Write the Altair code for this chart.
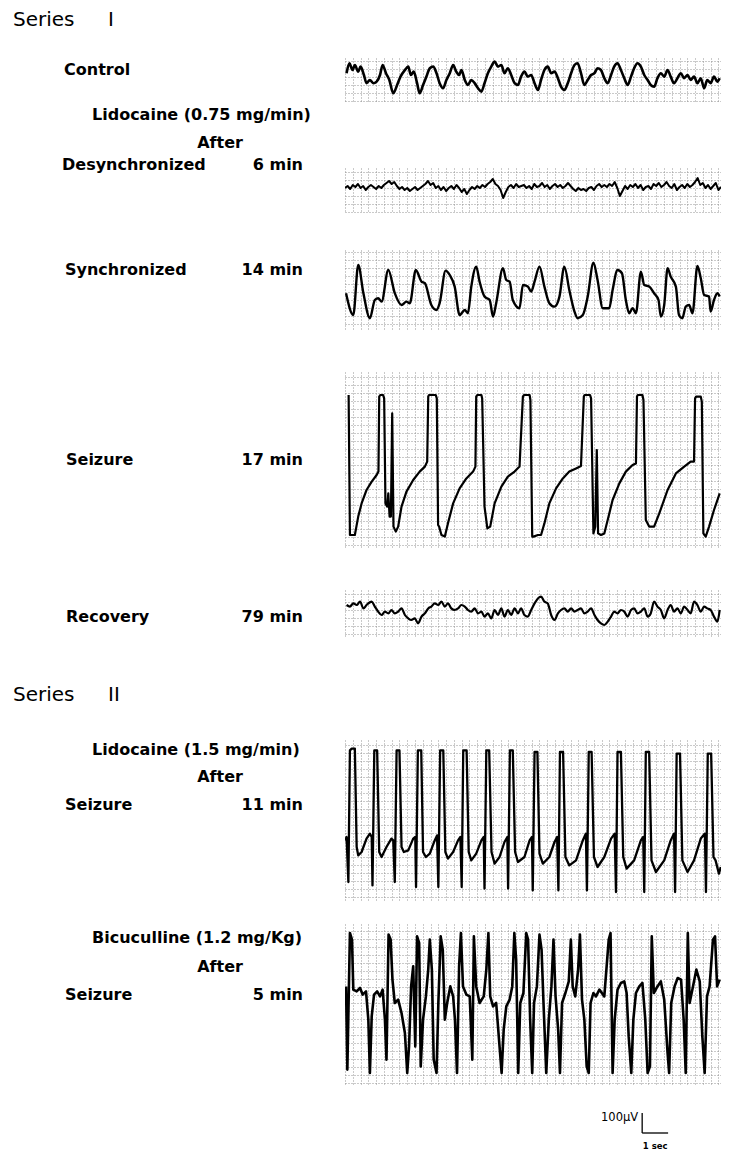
import altair as alt
import numpy as np
import pandas as pd

# ---------------- text ----------------
SERIES_WORD = "Series"
SERIES_NUMERALS = ["I", "II"]
ROW_LABELS = ["Control", "Desynchronized", "Synchronized", "Seizure", "Recovery", "Seizure", "Seizure"]
TIME_LABELS = ["6 min", "14 min", "17 min", "79 min", "11 min", "5 min"]
DRUG_LABELS = ["Lidocaine (0.75 mg/min)", "Lidocaine (1.5 mg/min)", "Bicuculline (1.2 mg/Kg)"]
AFTER_LABEL = "After"
SCALE_V_LABEL = "100µV"
SCALE_T_LABEL = "1 sec"

# ---------------- traces: (time s, potential µV) ----------------
CONTROL = [(0.06,17),(0.17,67),(0.29,33),(0.38,58),(0.51,25),(0.60,50),(0.73,8),(0.83,-33),(0.96,-17),(1.09,-33),
    (1.22,-25),(1.35,8),(1.45,58),(1.58,17),(1.71,-17),(1.86,-83),(2.01,-42),(2.14,0),(2.31,33),(2.44,50),(2.54,8),
    (2.65,25),(2.78,-33),(2.88,-83),(3.01,-42),(3.14,0),(3.27,42),(3.40,50),(3.53,17),(3.65,-33),(3.78,-58),(3.91,-17),
    (4.04,17),(4.17,58),(4.29,25),(4.40,8),(4.49,33),(4.62,-17),(4.74,-42),(4.87,-17),(5.00,-33),(5.13,-58),(5.26,-75),
    (5.38,-33),(5.51,17),(5.64,50),(5.77,75),(5.90,50),(6.03,58),(6.15,17),(6.28,42),(6.41,8),(6.54,-33),(6.67,-42),
    (6.79,0),(6.92,25),(7.05,0),(7.18,8),(7.31,-33),(7.44,-67),(7.56,-17),(7.69,33),(7.82,50),(7.95,17),(8.08,25),
    (8.21,-8),(8.33,-50),(8.46,-67),(8.59,-33),(8.72,17),(8.85,58),(8.97,67),(9.10,17),(9.23,-42),(9.36,-17),(9.49,8),
    (9.62,17),(9.74,42),(9.87,33),(10.00,-8),(10.13,-33),(10.26,8),(10.38,50),(10.51,67),(10.64,33),(10.77,-8),
    (10.90,-42),(11.03,0),(11.15,42),(11.28,67),(11.41,50),(11.54,8),(11.67,-17),(11.79,-42),(11.92,-50),(12.05,-8),
    (12.18,17),(12.31,0),(12.44,33),(12.56,0),(12.69,-33),(12.82,-8),(12.95,17),(13.08,-8),(13.21,8),(13.33,-17),
    (13.46,0),(13.59,-33),(13.72,-8),(13.85,-58),(13.97,-17),(14.10,-33),(14.23,0),(14.36,-25),(14.45,-8)]

# desynchronized: sampled every 0.1 s from t = 0
DESYNC_DT = 0.1
DESYNC = [0,10,-5,15,5,20,0,10,-10,5,15,
    5,-5,10,0,15,25,35,20,30,10,
    -5,5,-10,0,-15,-5,5,-10,0,10,
    20,35,15,25,0,10,-10,5,-15,0,
    10,-5,15,0,-20,-5,-30,-10,5,-5,
    10,0,15,5,20,30,45,20,10,-10,
    -50,-20,5,15,0,20,5,10,15,0,
    10,-5,20,5,10,25,5,15,-5,10,
    20,5,15,0,10,25,10,-5,-15,0,
    -10,-5,-15,0,5,-10,10,20,5,15,
    5,20,10,30,0,-40,-15,10,-5,15,
    5,20,0,15,-10,5,10,-5,20,10,
    25,5,15,30,10,0,20,-10,5,15,
    0,20,5,15,30,50,15,25,0,15,
    -5,10,25,-10,5]

SYNC = [(0.04,-8),(0.32,-117),(0.51,133),(0.71,-8),(0.96,-133),(1.15,-42),(1.28,-33),(1.41,-50),(1.67,108),
    (1.92,-8),(2.18,-67),(2.37,-50),(2.50,-58),(2.73,108),(2.95,50),(3.08,42),(3.33,-67),(3.53,-92),(3.65,-58),
    (3.88,105),(4.04,83),(4.23,25),(4.42,-117),(4.62,-92),(4.74,-108),(4.87,25),(5.06,125),(5.19,50),(5.38,-25),
    (5.58,-42),(5.71,-125),(5.83,-58),(6.09,117),(6.22,58),(6.35,50),(6.47,-42),(6.73,-83),(6.86,33),(7.05,25),
    (7.18,0),(7.31,50),(7.50,125),(7.69,25),(7.88,-58),(8.08,-75),(8.27,-25),(8.46,125),(8.65,8),(8.85,-100),
    (8.97,-133),(9.17,-117),(9.36,-25),(9.58,145),(9.74,58),(9.94,-83),(10.19,-83),(10.32,8),(10.51,108),(10.68,92),
    (10.83,-42),(10.96,-108),(11.09,-83),(11.22,-108),(11.41,100),(11.54,33),(11.73,25),(11.92,-8),(12.09,-42),
    (12.18,-125),(12.31,-67),(12.44,117),(12.56,75),(12.76,25),(12.88,-117),(13.01,-133),(13.14,-75),(13.27,-67),
    (13.40,-108),(13.59,128),(13.72,67),(13.85,-17),(14.04,-25),(14.10,-100),(14.23,-42),(14.36,-8),(14.45,-25)]

SEIZURE_17 = [(0.14,350),(0.19,-350),(0.38,-350),(0.51,-258),(0.64,-192),(0.83,-125),(1.03,-83),(1.22,-50),
    (1.29,-33),(1.32,342),(1.36,350),(1.47,350),(1.51,333),(1.56,-192),(1.63,-208),(1.67,-142),(1.72,-258),
    (1.77,-258),(1.82,258),(1.87,-308),(1.96,-333),(2.05,-308),(2.18,-208),(2.37,-133),(2.63,-75),(2.88,-33),
    (3.08,-8),(3.17,17),(3.21,342),(3.24,350),(3.50,350),(3.54,333),(3.59,-300),(3.63,-308),(3.72,-350),
    (3.85,-358),(3.97,-292),(4.17,-192),(4.42,-117),(4.68,-67),(4.94,-33),(5.03,-8),(5.06,342),(5.10,350),
    (5.26,350),(5.29,333),(5.38,-208),(5.49,-317),(5.60,-308),(5.77,-192),(6.03,-108),(6.28,-58),(6.54,-33),
    (6.73,-8),(6.86,342),(6.90,350),(7.12,350),(7.15,325),(7.22,-358),(7.27,-358),(7.44,-350),(7.56,-350),
    (7.69,-292),(7.88,-192),(8.14,-117),(8.40,-67),(8.65,-33),(8.91,-17),(9.10,-5),(9.21,342),(9.24,350),
    (9.45,350),(9.49,333),(9.58,-342),(9.65,-308),(9.71,75),(9.76,-342),(9.87,-350),(10.00,-342),(10.13,-275),
    (10.32,-175),(10.58,-92),(10.83,-33),(11.09,0),(11.22,8),(11.26,342),(11.29,350),(11.47,350),(11.51,325),
    (11.60,-275),(11.73,-308),(11.92,-308),(12.12,-242),(12.44,-125),(12.76,-42),(13.08,-8),(13.33,17),
    (13.46,17),(13.50,333),(13.54,342),(13.72,342),(13.76,317),(13.82,-342),(13.91,-358),(14.04,-308),
    (14.23,-225),(14.45,-142)]

RECOVERY = [(0.06,25),(0.19,17),(0.32,33),(0.45,25),(0.58,42),(0.71,8),(0.83,25),(1.03,42),(1.15,17),(1.28,-8),
    (1.41,-25),(1.54,-8),(1.67,-17),(1.79,0),(1.92,-17),(2.05,-8),(2.18,8),(2.31,-25),(2.44,-42),(2.56,-50),
    (2.69,-42),(2.82,-67),(2.95,-33),(3.08,-17),(3.21,8),(3.33,17),(3.46,33),(3.59,25),(3.72,42),(3.85,17),
    (3.97,33),(4.10,8),(4.23,0),(4.36,8),(4.49,25),(4.62,17),(4.74,0),(4.87,-8),(5.00,8),(5.13,-17),(5.26,-8),
    (5.38,-33),(5.51,-17),(5.64,-42),(5.77,0),(5.90,-25),(6.03,8),(6.15,-33),(6.28,0),(6.41,-25),(6.54,8),
    (6.67,-17),(6.79,8),(6.92,-25),(7.05,-33),(7.18,0),(7.31,33),(7.44,58),(7.56,67),(7.69,42),(7.82,33),
    (7.95,-25),(8.08,-50),(8.21,-17),(8.33,0),(8.46,8),(8.59,-8),(8.72,8),(8.85,-8),(8.97,0),(9.10,8),(9.23,-17),
    (9.36,-8),(9.49,8),(9.62,-25),(9.74,-50),(9.87,-67),(10.00,-75),(10.13,-58),(10.26,-33),(10.38,-8),
    (10.51,-17),(10.64,0),(10.77,-8),(10.90,-33),(11.03,0),(11.15,8),(11.28,-17),(11.41,-8),(11.54,8),
    (11.67,-33),(11.79,-17),(11.92,42),(12.05,17),(12.18,0),(12.31,-42),(12.44,0),(12.56,25),(12.69,-8),
    (12.82,8),(12.95,-17),(13.08,17),(13.21,0),(13.33,-17),(13.46,42),(13.59,25),(13.72,-8),(13.85,17),
    (13.97,8),(14.10,0),(14.23,-33),(14.36,-58),(14.45,0)]

SEIZURE_11 = [(0.00,-117),(0.06,-100),(0.13,-325),(0.19,333),(0.26,342),(0.38,342),(0.45,-150),(0.51,-192),
    (0.64,-175),(0.83,-108),(0.96,-83),(1.03,-100),
    (1.06,-342),(1.13,333),(1.24,333),(1.32,-175),(1.41,-200),(1.60,-150),(1.79,-108),(1.86,-117),
    (1.92,-325),(1.99,333),(2.10,333),(2.18,-150),(2.27,-175),(2.44,-167),(2.63,-108),(2.71,-100),
    (2.74,-350),(2.81,333),(2.94,333),(3.01,-175),(3.12,-200),(3.27,-183),(3.46,-117),(3.55,-92),
    (3.60,-350),(3.67,333),(3.79,333),(3.87,-175),(3.97,-208),(4.17,-175),(4.36,-117),(4.45,-100),
    (4.50,-350),(4.56,333),(4.69,333),(4.77,-175),(4.87,-217),(5.06,-183),(5.26,-117),(5.35,-100),
    (5.38,-358),(5.45,333),(5.56,333),(5.65,-175),(5.77,-233),(5.96,-200),(6.15,-125),(6.26,-100),
    (6.29,-358),(6.36,333),(6.47,333),(6.56,-175),(6.67,-225),(6.92,-200),(7.12,-117),(7.21,-100),
    (7.24,-367),(7.31,325),(7.42,325),(7.50,-183),(7.63,-233),(7.88,-200),(8.08,-125),(8.18,-100),
    (8.23,-367),(8.29,325),(8.41,325),(8.50,-200),(8.65,-242),(8.91,-217),(9.17,-117),(9.29,-83),
    (9.33,-367),(9.40,325),(9.51,325),(9.60,-200),(9.74,-250),(10.00,-200),(10.26,-108),(10.40,-83),
    (10.45,-375),(10.51,325),(10.64,325),(10.73,-200),(10.86,-258),(11.15,-217),(11.41,-117),(11.50,-100),
    (11.54,-375),(11.60,325),(11.73,325),(11.82,-217),(11.99,-275),(12.31,-217),(12.56,-117),(12.69,-83),
    (12.73,-375),(12.79,317),(12.92,317),(13.01,-217),(13.21,-275),(13.46,-217),(13.72,-108),(13.88,-83),
    (13.92,-375),(13.99,317),(14.12,317),(14.21,-200),(14.29,-217),(14.42,-283),(14.49,-250)]

BICUCULLINE = [(0.04,83),(0.09,-333),(0.19,350),(0.27,317),(0.32,67),(0.45,58),(0.58,75),(0.68,42),(0.81,58),
    (0.90,-83),(0.96,-350),(1.03,-67),(1.12,42),(1.24,58),(1.35,33),(1.45,67),(1.54,-83),(1.60,-283),(1.68,342),
    (1.76,317),(1.83,117),(1.92,0),(2.05,17),(2.18,-50),(2.31,-150),(2.40,-350),(2.47,-217),(2.55,83),(2.63,183),
    (2.71,-217),(2.78,333),(2.86,300),(2.92,-317),(3.01,-83),(3.12,33),(3.21,167),(3.27,317),(3.35,167),
    (3.42,-283),(3.53,-350),(3.60,0),(3.69,333),(3.77,267),(3.85,-83),(3.94,0),(4.06,83),(4.17,33),(4.24,-83),
    (4.32,-350),(4.40,183),(4.47,350),(4.55,83),(4.68,42),(4.81,33),(4.91,-283),(4.97,333),(5.06,83),(5.19,0),
    (5.35,33),(5.45,167),(5.53,350),(5.60,33),(5.71,-17),(5.83,0),(5.96,-217),(6.04,-350),(6.12,-133),
    (6.22,-17),(6.35,17),(6.45,83),(6.53,350),(6.60,217),(6.68,-350),(6.76,0),(6.88,50),(6.99,350),(7.06,317),
    (7.14,-83),(7.22,-350),(7.29,0),(7.40,83),(7.50,342),(7.58,267),(7.65,17),(7.76,-350),(7.86,-83),(7.96,83),
    (8.04,317),(8.12,33),(8.22,-133),(8.29,-350),(8.37,0),(8.50,50),(8.63,108),(8.71,317),(8.78,83),(8.88,33),
    (8.99,167),(9.06,342),(9.14,17),(9.23,-83),(9.32,-317),(9.40,-350),(9.47,0),(9.58,50),(9.68,33),(9.81,67),
    (10.00,33),(10.17,317),(10.24,350),(10.32,-350),(10.40,-83),(10.51,67),(10.64,100),(10.77,108),(10.86,50),
    (10.94,-167),(11.04,-350),(11.12,-83),(11.22,50),(11.35,83),(11.47,100),(11.58,-83),(11.67,-350),
    (11.76,-317),(11.83,333),(11.91,50),(12.05,83),(12.18,108),(12.31,17),(12.44,-250),(12.50,-350),(12.58,0),
    (12.71,83),(12.83,125),(12.96,117),(13.06,-83),(13.14,-350),(13.22,350),(13.29,0),(13.42,83),(13.55,167),
    (13.68,108),(13.78,-167),(13.87,-350),(13.96,33),(14.06,83),(14.19,317),(14.27,333),(14.35,83),(14.45,117)]

# calibration bar
SCALE_BAR_T = [11.46, 12.46]   # 1 s
SCALE_BAR_V = [0, 100]         # 100 µV

# ---------------- layout ----------------
T_DOMAIN = [0, 14.5]
PANEL_W = 376
LEFT_W = 337
TOTAL_H = 1140
FONT = "DejaVu Sans"
GRID_COLOR = "#8a8a8a"


def grid_axis(vals):
    return alt.Axis(values=[float(v) for v in vals], grid=True, gridColor=GRID_COLOR, gridDash=[1, 2],
                    gridWidth=1, gridOpacity=0.9, labels=False, ticks=False, domain=False, title=None)


def trace_chart(df, ydom, h, sw, interp):
    df = df.copy()
    df["i"] = range(len(df))
    xgrid = np.arange(0, T_DOMAIN[1] + 1e-9, 0.3)
    ygrid = np.arange(np.ceil(ydom[0] / 40) * 40, ydom[1] + 1e-9, 40)
    return alt.Chart(df).mark_line(color="black", strokeWidth=sw, strokeJoin="round", interpolate=interp,
                                   clip=True).encode(
        x=alt.X("t:Q", scale=alt.Scale(domain=T_DOMAIN, nice=False, zero=False), axis=grid_axis(xgrid)),
        y=alt.Y("v:Q", scale=alt.Scale(domain=ydom, nice=False, zero=False), axis=grid_axis(ygrid)),
        order="i:Q",
    ).properties(width=PANEL_W, height=h)


def pairs_df(pairs):
    return pd.DataFrame(pairs, columns=["t", "v"])


def spacer(h):
    return alt.Chart(pd.DataFrame({"s": [0]})).mark_point(opacity=0, size=0).encode(
        x=alt.value(10), y=alt.value(1)).properties(width=PANEL_W, height=h)


desync_df = pd.DataFrame({"t": np.arange(len(DESYNC)) * DESYNC_DT, "v": DESYNC})

panels = [
    (50, pairs_df(CONTROL), [-127, 93], 44, 2.6, "monotone"),
    (66, desync_df, [-120, 100], 44, 2.0, "linear"),
    (38, pairs_df(SYNC), [-192, 208], 80, 2.4, "monotone"),
    (42, pairs_df(SEIZURE_17), [-415, 465], 176, 2.2, "linear"),
    (42, pairs_df(RECOVERY), [-140, 100], 48, 2.2, "monotone"),
    (102, pairs_df(SEIZURE_11), [-415, 385], 160, 2.3, "linear"),
    (24, pairs_df(BICUCULLINE), [-405, 395], 160, 2.6, "linear"),
]

right_items = []
for gap, df, ydom, h, sw, interp in panels:
    right_items.append(spacer(gap))
    right_items.append(trace_chart(df, ydom, h, sw, interp))
right_items.append(spacer(21))

# calibration panel drawn with the same time / voltage scale (5 µV per px)
sb = pd.DataFrame({"t0": [SCALE_BAR_T[0]], "t1": [SCALE_BAR_T[1]], "v0": [SCALE_BAR_V[0]], "v1": [SCALE_BAR_V[1]],
                   "tm": [(SCALE_BAR_T[0] + SCALE_BAR_T[1]) / 2], "vm": [0.75 * SCALE_BAR_V[1]],
                   "lv": [SCALE_V_LABEL], "lt": [SCALE_T_LABEL]})
xs = alt.Scale(domain=T_DOMAIN, nice=False, zero=False)
ys = alt.Scale(domain=[-75, 140], nice=False, zero=False)
sb_base = alt.Chart(sb)
sb_chart = alt.layer(
    sb_base.mark_rule(color="black", strokeWidth=1.3).encode(
        x=alt.X("t0:Q", scale=xs, axis=None), y=alt.Y("v0:Q", scale=ys, axis=None), y2="v1:Q"),
    sb_base.mark_rule(color="black", strokeWidth=1.3).encode(
        x=alt.X("t0:Q", scale=xs, axis=None), x2="t1:Q", y=alt.Y("v0:Q", scale=ys, axis=None)),
    sb_base.mark_text(align="right", baseline="middle", dx=-4, font=FONT, fontSize=11.5, color="black").encode(
        x=alt.X("t0:Q", scale=xs, axis=None), y=alt.Y("vm:Q", scale=ys, axis=None), text="lv:N"),
    sb_base.mark_text(align="center", baseline="middle", dy=13, font=FONT, fontSize=8.5, fontWeight="bold",
                      color="black").encode(
        x=alt.X("tm:Q", scale=xs, axis=None), y=alt.Y("v0:Q", scale=ys, axis=None), text="lt:N"),
).properties(width=PANEL_W, height=43)
right_items.append(sb_chart)

right = alt.vconcat(*right_items, spacing=0, bounds="flush")

# ---------------- left label column ----------------
# (text, x, y, align, kind)   positions in chart pixels
text_layout = [
    (SERIES_WORD, 5, 12, "left", "series"),
    (SERIES_NUMERALS[0], 100, 12, "left", "series"),
    (ROW_LABELS[0], 56, 62, "left", "label"),
    (DRUG_LABELS[0], 84, 107, "left", "label"),
    (AFTER_LABEL, 212, 135, "center", "label"),
    (ROW_LABELS[1], 54, 157, "left", "label"),
    (TIME_LABELS[0], 295, 157, "right", "label"),
    (ROW_LABELS[2], 57, 262, "left", "label"),
    (TIME_LABELS[1], 295, 262, "right", "label"),
    (ROW_LABELS[3], 58, 452, "left", "label"),
    (TIME_LABELS[2], 295, 452, "right", "label"),
    (ROW_LABELS[4], 58, 609, "left", "label"),
    (TIME_LABELS[3], 295, 609, "right", "label"),
    (SERIES_WORD, 5, 687, "left", "series"),
    (SERIES_NUMERALS[1], 100, 687, "left", "series"),
    (DRUG_LABELS[1], 84, 742, "left", "label"),
    (AFTER_LABEL, 212, 769, "center", "label"),
    (ROW_LABELS[5], 57, 797, "left", "label"),
    (TIME_LABELS[4], 295, 797, "right", "label"),
    (DRUG_LABELS[2], 84, 930, "left", "label"),
    (AFTER_LABEL, 212, 959, "center", "label"),
    (ROW_LABELS[6], 57, 987, "left", "label"),
    (TIME_LABELS[5], 295, 987, "right", "label"),
]

text_layers = []
for txt, x, y, align, kind in text_layout:
    if kind == "series":
        mk = dict(font=FONT, fontSize=20, fontWeight="normal")
    else:
        mk = dict(font=FONT, fontSize=16, fontWeight="bold")
    text_layers.append(
        alt.Chart(pd.DataFrame({"label": [txt]})).mark_text(align=align, baseline="middle", color="black", **mk)
        .encode(x=alt.value(x), y=alt.value(y), text="label:N")
    )

left = alt.layer(*text_layers).properties(width=LEFT_W, height=TOTAL_H)

chart = alt.hconcat(left, right, spacing=0, bounds="flush").properties(padding=0).configure_view(
    stroke=None).configure_axis(minExtent=0, maxExtent=0)

chart.save("out.html", embed_options={"renderer": "svg", "actions": False})
